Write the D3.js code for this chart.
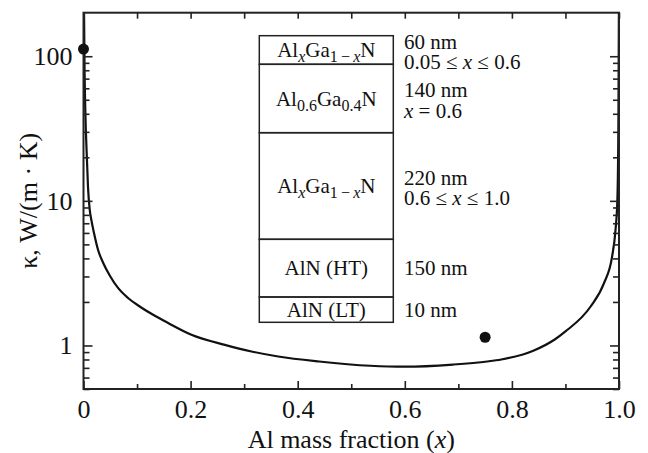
<!DOCTYPE html>
<html><head><meta charset="utf-8">
<script src="https://cdn.jsdelivr.net/npm/d3@7"></script>
<style>
body{margin:0;background:#fff}
svg{display:block}
</style>
</head><body>
<svg id="chart" width="648" height="453"></svg>
<script>
// ---- data ----
const xTickValues = [0,0.1,0.2,0.3,0.4,0.5,0.6,0.7,0.8,0.9,1.0];
const xTickLabels = ["0","","0.2","","0.4","","0.6","","0.8","","1.0"];
const yMajorTicks = [1,10,100];
const yMajorLabels = ["1","10","100"];
const yMinorTicks = [0.5,0.6,0.7,0.8,0.9,2,3,4,5,6,7,8,9,20,30,40,50,60,70,80,90];
const curveX = [0.0008,0.002,0.0034,0.0065,0.0084,0.0116,0.0146,0.0196,0.0271,0.0364,0.049,0.0645,0.0832,0.105,0.130,0.158,0.2015,0.264,0.3137,0.3636,0.44,0.5355,0.60,0.69,0.754,0.78,0.84,0.88,0.90,0.947,0.972,0.987,0.9935,0.997,0.999,0.9998];
const curveKappa = [250,80,42,19,12.5,8.7,7.4,6.0,4.59,3.75,3.05,2.50,2.13,1.86,1.63,1.43,1.186,1.01,0.909,0.839,0.775,0.724,0.713,0.738,0.775,0.80,0.92,1.10,1.25,1.86,2.7,4.1,6.3,10.2,40,200];
const pointX = [0,0.75];
const pointKappa = [112,1.14];
// layer stack (top to bottom); segments: [text, style]
const layerNames = [
  [["Al",""],["x","subi"],["Ga",""],["1\u2009\u2212\u2009","sub"],["x","subi"],["N",""]],
  [["Al",""],["0.6","sub"],["Ga",""],["0.4","sub"],["N",""]],
  [["Al",""],["x","subi"],["Ga",""],["1\u2009\u2212\u2009","sub"],["x","subi"],["N",""]],
  [["AlN (HT)",""]],
  [["AlN (LT)",""]]
];
const layerThickness = ["60 nm","140 nm","220 nm","150 nm","10 nm"];
const layerComposition = [
  [["0.05 \u2264 ",""],["x","i"],[" \u2264 0.6",""]],
  [["x","i"],[" = 0.6",""]],
  [["0.6 \u2264 ",""],["x","i"],[" \u2264 1.0",""]],
  [],
  []
];

// ---- layout ----
const FONT = '"Liberation Serif", "Times New Roman", Times, serif';
const svg = d3.select("#chart").attr("font-family",FONT);
const L = 83.5, R = 619, T = 12.7, B = 389;
const x = d3.scaleLinear().domain([0,1]).range([L,R]);
const y = d3.scaleLog().domain([0.5,200]).range([B,T]);
const fontTick = 26, fontInset = 21, fontSub = 16;

svg.append("rect").attr("width",648).attr("height",453).attr("fill","#fff");

// clip
svg.append("defs").append("clipPath").attr("id","plotclip")
  .append("rect").attr("x",L).attr("y",T).attr("width",R-L).attr("height",B-T);

// curve
const line = d3.line().x(d=>x(d[0])).y(d=>y(d[1])).curve(d3.curveMonotoneX);
svg.append("path")
  .datum(curveX.map((v,i)=>[v,curveKappa[i]]))
  .attr("clip-path","url(#plotclip)")
  .attr("d",line).attr("fill","none").attr("stroke","#111").attr("stroke-width",2.2);

// axes
function styleAxis(g){
  g.attr("font-family",FONT);
  g.select(".domain").remove();
  g.selectAll("line").attr("stroke","#222").attr("stroke-width",1.6);
  g.selectAll("text").attr("font-size",fontTick).attr("fill","#111").attr("font-family",FONT);
}
const xb = svg.append("g").attr("transform",`translate(0,${B})`)
  .call(d3.axisBottom(x).tickValues(xTickValues).tickSizeInner(-8).tickSizeOuter(0).tickPadding(11)
    .tickFormat((d,i)=>xTickLabels[i]));
styleAxis(xb);
xb.selectAll(".tick line").attr("y2",(d,i)=> i%2===0 ? -8 : -5);
const xt = svg.append("g").attr("transform",`translate(0,${T})`)
  .call(d3.axisTop(x).tickValues(xTickValues).tickSizeInner(-6).tickSizeOuter(0).tickFormat(""));
styleAxis(xt);

const yl = svg.append("g").attr("transform",`translate(${L},0)`)
  .call(d3.axisLeft(y).tickValues(yMajorTicks).tickSizeInner(-9).tickSizeOuter(0).tickPadding(11)
    .tickFormat((d,i)=>yMajorLabels[i]));
styleAxis(yl);
const ylm = svg.append("g").attr("transform",`translate(${L},0)`)
  .call(d3.axisLeft(y).tickValues(yMinorTicks).tickSizeInner(-6).tickSizeOuter(0).tickFormat(""));
styleAxis(ylm);
const yr = svg.append("g").attr("transform",`translate(${R},0)`)
  .call(d3.axisRight(y).tickValues(yMajorTicks).tickSizeInner(-9).tickSizeOuter(0).tickFormat(""));
styleAxis(yr);
const yrm = svg.append("g").attr("transform",`translate(${R},0)`)
  .call(d3.axisRight(y).tickValues(yMinorTicks).tickSizeInner(-6).tickSizeOuter(0).tickFormat(""));
styleAxis(yrm);

// frame
svg.append("rect").attr("x",L).attr("y",T).attr("width",R-L).attr("height",B-T)
  .attr("fill","none").attr("stroke","#222").attr("stroke-width",2);

// points
svg.selectAll("circle.pt").data(pointX).join("circle").attr("class","pt")
  .attr("cx",d=>x(d)).attr("cy",(d,i)=>y(pointKappa[i])).attr("r",5.5).attr("fill","#111");

// axis titles
const xTitle = svg.append("text").attr("x",(L+R)/2).attr("y",448).attr("font-family",FONT)
  .attr("text-anchor","middle").attr("font-size",fontTick).attr("fill","#111");
xTitle.append("tspan").text("Al mass fraction (");
xTitle.append("tspan").attr("font-style","italic").text("x");
xTitle.append("tspan").text(")");
svg.append("text").attr("transform",`translate(37,${(T+B)/2}) rotate(-90)`).attr("font-family",FONT)
  .attr("text-anchor","middle").attr("font-size",fontTick).attr("fill","#111")
  .text("\u03ba, W/(m \u00b7 K)");

// inset layer stack
const boxL = 259.3, boxR = 393.3;
const edges = [35.7, 64.3, 132.7, 239.3, 297, 322.3];
const inset = svg.append("g").attr("font-family",FONT);
layerNames.forEach((segs,i)=>{
  const top = edges[i], bot = edges[i+1], cy = (top+bot)/2;
  inset.append("rect").attr("x",boxL).attr("y",top).attr("width",boxR-boxL).attr("height",bot-top)
    .attr("fill","none").attr("stroke","#222").attr("stroke-width",1.5);
  const t = inset.append("text").attr("x",(boxL+boxR)/2).attr("y",cy+7)
    .attr("text-anchor","middle").attr("font-size",fontInset).attr("fill","#111");
  let shifted = false;
  segs.forEach(([txt,st])=>{
    const sp = t.append("tspan").text(txt);
    const isSub = st==="sub"||st==="subi";
    if(st==="subi") sp.attr("font-style","italic");
    if(isSub){ sp.attr("font-size",fontSub); if(!shifted){sp.attr("dy",5); shifted=true;} }
    else if(shifted){ sp.attr("dy",-5); shifted=false; }
  });
  const tx = 404;
  if(layerComposition[i].length){
    inset.append("text").attr("x",tx).attr("y",cy-1.5).attr("font-size",fontInset).attr("fill","#111")
      .text(layerThickness[i]);
    const c = inset.append("text").attr("x",tx).attr("y",cy+19).attr("font-size",fontInset).attr("fill","#111");
    layerComposition[i].forEach(([txt,st])=>{
      const sp = c.append("tspan").text(txt);
      if(st==="i") sp.attr("font-style","italic");
    });
  } else {
    inset.append("text").attr("x",tx).attr("y",cy+7).attr("font-size",fontInset).attr("fill","#111")
      .text(layerThickness[i]);
  }
});
</script>
</body></html>
